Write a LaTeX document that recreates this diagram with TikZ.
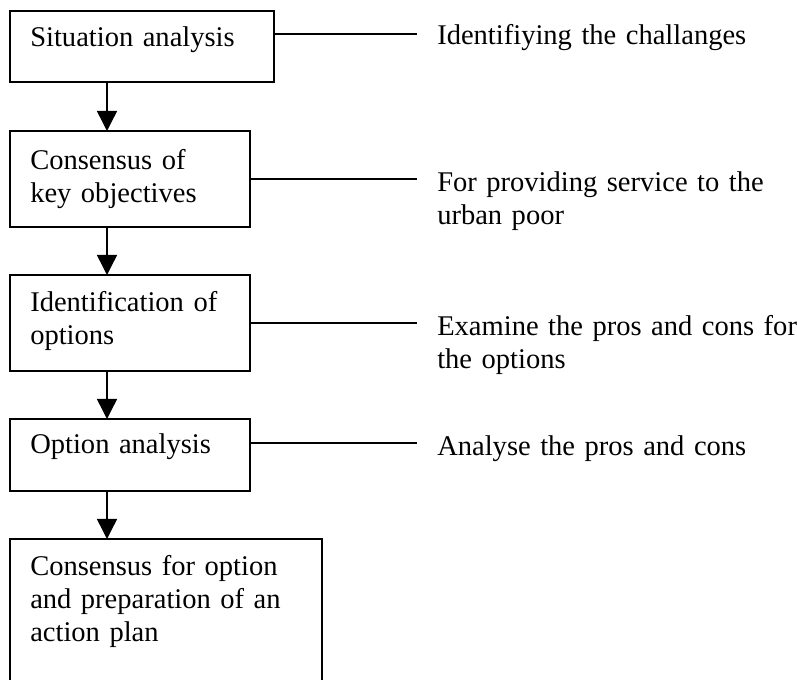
\documentclass[tikz,border=0pt]{standalone}
\usepackage{fontspec}
\setmainfont{Liberation Serif}
\usetikzlibrary{arrows.meta}
\begin{document}
\begin{tikzpicture}[x=0.75pt, y=-0.75pt,
  box/.style={draw, line width=1.2pt, inner sep=0pt, outer sep=0pt, anchor=north west},
  txt/.style={inner sep=0pt, anchor=base west, align=left, text width=320pt,
    font=\fontsize{21.4pt}{24.75pt}\selectfont},
  link/.style={line width=1.1pt},
  flow/.style={line width=1.1pt, -{Triangle[length=15pt, width=15pt]}}]
  \clip (0,0) rectangle (797,680);
  \useasboundingbox (0,0) rectangle (797,680);

  % process boxes
  \node[box, minimum width=198pt, minimum height=53.25pt] (b1) at (10,11) {};
  \node[box, minimum width=180pt, minimum height=72pt]    (b2) at (10,131) {};
  \node[box, minimum width=180pt, minimum height=72pt]    (b3) at (10,275) {};
  \node[box, minimum width=180pt, minimum height=54pt]    (b4) at (10,419) {};
  \node[box, minimum width=234pt, minimum height=130pt]   (b5) at (10,539) {};

  % box texts
  \node[txt] (t1) at (30,47)  {Situation analysis};
  \node[txt] (t2) at (30,170) {Consensus of\\key objectives};
  \node[txt] (t3) at (30,312) {Identification of\\options};
  \node[txt] (t4) at (30,454) {Option analysis};
  \node[txt] (t5) at (30,576) {Consensus for option\\and preparation of an\\action plan};

  % side remarks
  \node[txt] (r1) at (437,45)  {Identifiying the challanges};
  \node[txt] (r2) at (437,192) {For providing service to the\\urban poor};
  \node[txt] (r3) at (437,336) {Examine the pros and cons for\\the options};
  \node[txt] (r4) at (437,456) {Analyse the pros and cons};

  % ends of the remark lines
  \coordinate (e1) at (417,34);
  \coordinate (e2) at (417,179);
  \coordinate (e3) at (417,323);
  \coordinate (e4) at (417,443);
  \draw[link] (b1.east |- e1) -- (e1);
  \draw[link] (b2.east |- e2) -- (e2);
  \draw[link] (b3.east |- e3) -- (e3);
  \draw[link] (b4.east |- e4) -- (e4);

  % flow arrows
  \coordinate (ax) at (107,0);
  \draw[flow] (b1.south -| ax) -- (b2.north -| ax);
  \draw[flow] (b2.south -| ax) -- (b3.north -| ax);
  \draw[flow] (b3.south -| ax) -- (b4.north -| ax);
  \draw[flow] (b4.south -| ax) -- (b5.north -| ax);
\end{tikzpicture}
\end{document}
